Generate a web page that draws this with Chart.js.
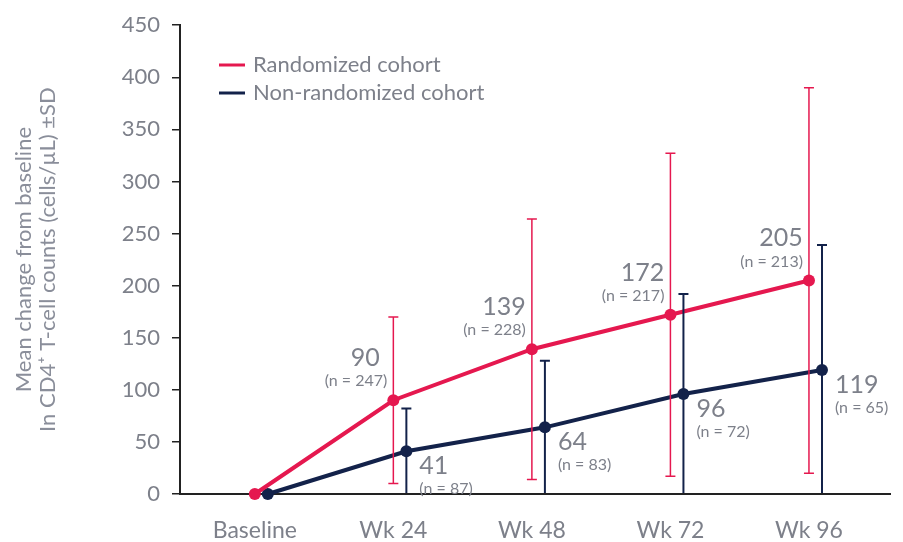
<!DOCTYPE html>
<html>
<head>
<meta charset="utf-8">
<script src="https://cdn.jsdelivr.net/npm/chart.js@4/dist/chart.umd.min.js"></script>
<style>
  html, body { margin: 0; padding: 0; background: #fff; }
  #wrap { width: 903px; height: 542px; }
</style>
</head>
<body>
<div id="wrap"><canvas id="cd4Chart" width="903" height="542"></canvas></div>
<script>
// chart data
const categories = ['Baseline', 'Wk 24', 'Wk 48', 'Wk 72', 'Wk 96'];
const randMean = [0, 90, 139, 172, 205];
const randSD = [0, 80, 125, 155, 185];
const randN = [null, 247, 228, 217, 213];
const nonRandMean = [0, 41, 64, 96, 119];
const nonRandSD = [0, 41, 64, 96, 120];
const nonRandN = [null, 87, 83, 72, 65];
const yTicks = [0, 50, 100, 150, 200, 250, 300, 350, 400, 450];

const RED = '#e5184f';
const NAVY = '#13224a';
const TEXT = '#7d808a';
const FONT = 'Lato, "Open Sans", sans-serif';
const NAVY_SHIFT = 0.094;

// error bars + value labels + legend
const annotations = {
    id: 'annotations',
    afterDatasetsDraw(chart) {
        const ctx = chart.ctx;
        const x = chart.scales.x, y = chart.scales.y;
        const area = chart.chartArea;

        function errorBar(xv, mean, sd, color, width) {
            if (!sd) return;
            const px = x.getPixelForValue(xv);
            const top = y.getPixelForValue(mean + sd);
            const bot = y.getPixelForValue(mean - sd);
            ctx.save();
            ctx.beginPath();
            ctx.rect(area.left, area.top - 10, area.right - area.left, area.bottom - area.top + 9);
            ctx.clip();
            ctx.strokeStyle = color;
            ctx.lineWidth = width;
            ctx.beginPath();
            ctx.moveTo(px, top); ctx.lineTo(px, bot);
            ctx.moveTo(px - 5, top); ctx.lineTo(px + 5, top);
            ctx.moveTo(px - 5, bot); ctx.lineTo(px + 5, bot);
            ctx.stroke();
            ctx.restore();
        }

        categories.forEach((c, i) => {
            errorBar(i, randMean[i], randSD[i], RED, 1.5);
            errorBar(i + NAVY_SHIFT, nonRandMean[i], nonRandSD[i], NAVY, 2);
        });

        ctx.save();
        ctx.fillStyle = TEXT;
        ctx.textBaseline = 'middle';
        categories.forEach((c, i) => {
            if (randN[i] != null) {
                const px = x.getPixelForValue(i), py = y.getPixelForValue(randMean[i]);
                ctx.textAlign = 'center';
                ctx.font = '25px ' + FONT;
                ctx.fillText(String(randMean[i]), px - 28, py - 42);
                ctx.textAlign = 'right';
                ctx.font = '16px ' + FONT;
                ctx.fillText('(n = ' + randN[i] + ')', px - 6, py - 19);
            }
            if (nonRandN[i] != null) {
                const px = x.getPixelForValue(i + NAVY_SHIFT), py = y.getPixelForValue(nonRandMean[i]);
                ctx.textAlign = 'left';
                ctx.font = '25px ' + FONT;
                ctx.fillText(String(nonRandMean[i]), px + 13, py + 15);
                ctx.font = '16px ' + FONT;
                ctx.fillText('(n = ' + nonRandN[i] + ')', px + 13, py + 38);
            }
        });

        // legend
        chart.data.datasets.forEach((ds, k) => {
            const ly = 65 + k * 28;
            ctx.strokeStyle = ds.borderColor;
            ctx.lineWidth = 3;
            ctx.beginPath();
            ctx.moveTo(219, ly); ctx.lineTo(245, ly);
            ctx.stroke();
            ctx.fillStyle = TEXT;
            ctx.textAlign = 'left';
            ctx.font = '22px ' + FONT;
            ctx.fillText(ds.label, 253, ly);
        });
        ctx.restore();
    }
};

const ctx = document.getElementById('cd4Chart').getContext('2d');
new Chart(ctx, {
    type: 'line',
    data: {
        datasets: [{
            label: 'Randomized cohort',
            data: randMean.map((v, i) => ({ x: i, y: v })),
            borderColor: RED,
            backgroundColor: RED,
            borderWidth: 4,
            pointRadius: 6,
            pointBorderWidth: 0,
            clip: false
        }, {
            label: 'Non-randomized cohort',
            data: nonRandMean.map((v, i) => ({ x: i + NAVY_SHIFT, y: v })),
            borderColor: NAVY,
            backgroundColor: NAVY,
            borderWidth: 4,
            pointRadius: 6,
            pointBorderWidth: 0,
            clip: false
        }]
    },
    options: {
        responsive: false,
        animation: false,
        layout: { padding: { top: 23, right: 13, left: 0, bottom: 0 } },
        plugins: {
            legend: { display: false },
            tooltip: { enabled: false }
        },
        scales: {
            x: {
                type: 'linear',
                min: -0.54,
                max: 4.585,
                afterFit(scale) { scale.height = 48; },
                afterBuildTicks(scale) { scale.ticks = categories.map((c, i) => ({ value: i })); },
                grid: { display: false },
                border: { color: '#222', width: 2 },
                ticks: {
                    padding: 15,
                    color: TEXT,
                    font: { family: FONT, size: 23 },
                    callback: v => categories[v]
                }
            },
            y: {
                min: 0,
                max: 450,
                afterFit(scale) { scale.width = 180; },
                afterBuildTicks(scale) { scale.ticks = yTicks.map(v => ({ value: v })); },
                grid: { drawOnChartArea: false, tickLength: 8, color: '#222', lineWidth: 1.5 },
                border: { color: '#222', width: 2 },
                ticks: {
                    padding: 12,
                    color: TEXT,
                    font: { family: FONT, size: 22 }
                },
                title: {
                    display: true,
                    text: ['Mean change from baseline', 'In CD4\u207A T-cell counts (cells/\u00B5L) \u00B1SD'],
                    color: '#8a8e9a',
                    font: { family: FONT, size: 22, lineHeight: 1.1 },
                    padding: { top: 12, bottom: 0 }
                }
            }
        }
    },
    plugins: [annotations]
});
</script>
</body>
</html>
